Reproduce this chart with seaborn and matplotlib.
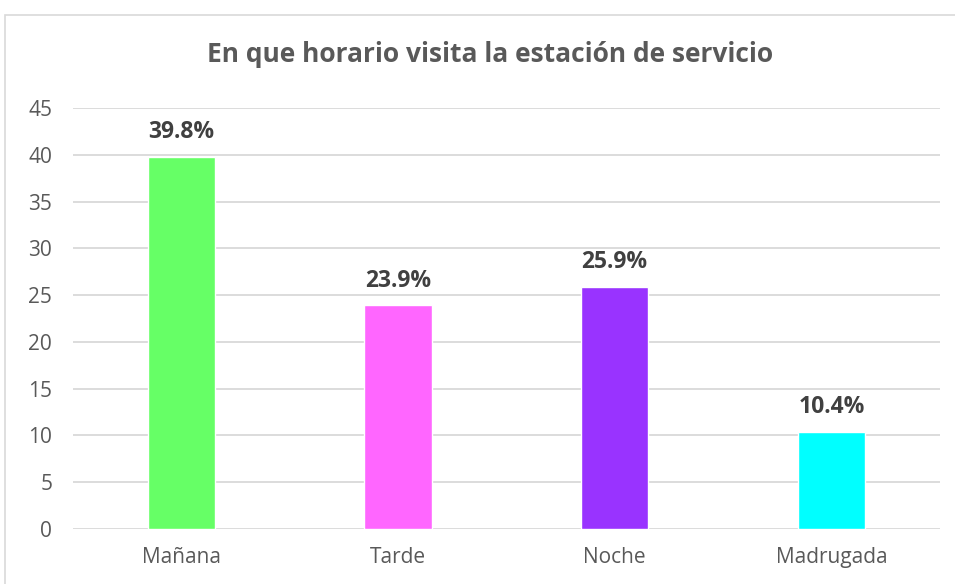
import seaborn as sns
import pandas as pd
import matplotlib.pyplot as plt
from matplotlib.patches import Rectangle

sns.set_theme(style="white")
plt.rcParams['font.family'] = ['Open Sans', 'DejaVu Sans']

categories = ["Mañana", "Tarde", "Noche", "Madrugada"]
values = [39.8, 23.9, 25.9, 10.4]
labels = ["39.8%", "23.9%", "25.9%", "10.4%"]
colors = ["#66FF66", "#FF66FF", "#9933FF", "#00FFFF"]

df = pd.DataFrame({"horario": categories, "valor": values})

fig = plt.figure(figsize=(9.55, 5.84), dpi=100)
ax = fig.add_axes([0.0764, 0.0942, 0.9076, 0.7208])

sns.barplot(data=df, x="horario", y="valor", hue="horario", palette=colors,
            width=0.31, legend=False, ax=ax, saturation=1)

ax.set_ylim(0, 45)
ax.set_yticks(range(0, 46, 5))
ax.yaxis.grid(True, color="#D9D9D9", linewidth=1.3)
ax.set_axisbelow(True)
for s in ax.spines.values():
    s.set_visible(False)
ax.set_xlabel("")
ax.set_ylabel("")
ax.tick_params(axis="both", colors="#595959", labelsize=15, length=0)
ax.tick_params(axis="x", pad=13)
ax.tick_params(axis="y", pad=15)

for i, (v, t) in enumerate(zip(values, labels)):
    ax.annotate(t, (i, v), xytext=(0, 9), textcoords="offset points",
                ha="center", va="bottom", fontsize=16.5, fontweight="bold",
                color="#404040")

fig.text(0.513, 0.906, "En que horario visita la estación de servicio",
         ha="center", va="center", fontsize=19, fontweight="bold",
         color="#595959")

fig.patches.append(Rectangle((0.005, -0.05), 1.2, 0.974 + 0.05, transform=fig.transFigure,
                             fill=False, edgecolor="#D9D9D9", linewidth=1.2))

fig.savefig("out.png", dpi=100)
